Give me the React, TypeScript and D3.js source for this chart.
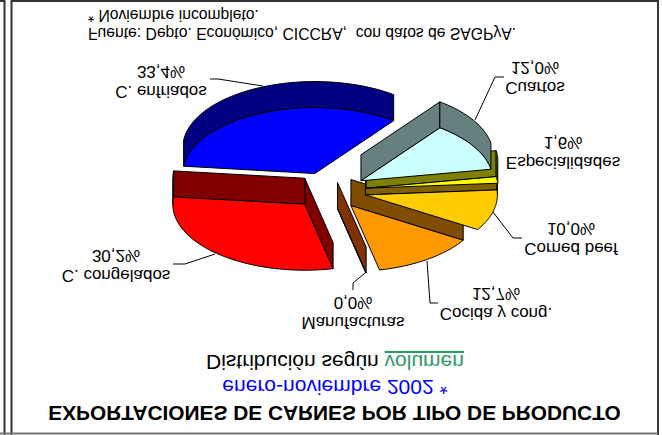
// exploded 3D pie, drawn upside down like the scanned original
import * as d3 from "d3";

const W = 662;
const H = 435;

// slices, clockwise (as seen on the page) from the first one
const products = ["Cuartos", "Especialidades", "Corned beef", "Cocida y cong.", "Manufacturas", "C. congelados", "C. enfriados"];
const shares = [12.0, 1.6, 10.0, 12.7, 0.04, 30.2, 33.4];
const faceColors = ["#CCFFFF", "#FFFF00", "#FFCC00", "#FF9900", "#FF6600", "#FF0000", "#0000FF"];
const wallColors = ["#668080", "#808000", "#806000", "#804C00", "#803300", "#800000", "#000080"];
// far slices first, in the unflipped view
const drawOrder = [5, 4, 3, 2, 1, 0, 6];

// label anchors in the flipped drawing: x, baseline of name line
const labelX = [535, 563, 571, 496, 353, 116, 161];
const labelY = [353, 278, 192, 127, 118, 165, 349];
const leaderPoints: [number, number][][] = [
  [[475, 315], [495, 358], [504, 358]],
  [],
  [[493, 223], [513, 197], [522, 197]],
  [[427, 174], [430, 132], [438, 132]],
  [[365, 162], [353, 152], [353, 145]],
  [[215, 181], [185, 171], [173, 171]],
  [[263, 349], [218, 356], [210, 356]],
];

const title = "EXPORTACIONES DE CARNES POR TIPO DE PRODUCTO";
const period = "enero-noviembre 2002 *";
const subtitle = "Distribución según ";
const subtitleUnit = "volumen";
const footnote = "* Noviembre incompleto.";
const source = "Fuente: Depto. Económico, CICCRA,  con datos de SAGPyA.";

const cx = 329.5;
const cy = 244.5;
const rx = 132;
const ry = 66;
const depth = 26;
const explode = 0.28;
const startAngle = (36.7 * Math.PI) / 180;

const fontFamily = "'Liberation Sans', Arial, sans-serif";
const pct = (v: number) => v.toFixed(1).replace(".", ",") + "%";

export default function App() {
  const pie = d3.pie<number>().sort(null).startAngle(startAngle).endAngle(startAngle + 2 * Math.PI);
  const arcs = pie(shares);

  const line = d3.line<[number, number]>();

  const slices = drawOrder.map((i) => {
    const a0 = arcs[i].startAngle;
    const a1 = arcs[i].endAngle;
    const mid = (a0 + a1) / 2;
    const ax = cx + explode * rx * Math.sin(mid);
    const ay = cy + explode * ry * Math.cos(mid);
    const rim = (a: number): [number, number] => [ax + rx * Math.sin(a), ay + ry * Math.cos(a)];
    const sweep = (from: number, to: number) => d3.range(0, 41).map((k) => rim(from + ((to - from) * k) / 40));

    const face = line([[ax, ay], ...sweep(a0, a1)]) + "Z";

    // walls are only drawn on the sides that can be seen
    const walls: string[] = [];
    const radial = (a: number) => {
      const p = rim(a);
      walls.push(line([[ax, ay], p, [p[0], p[1] + depth], [ax, ay + depth]]) + "Z");
    };
    if (Math.sin(a0) > 0) radial(a0);
    if (Math.sin(a1) < 0) radial(a1);
    // outer wall, only the part of the rim between -90 and 90 degrees
    for (const turn of [0, 2 * Math.PI]) {
      const from = Math.max(a0, turn - Math.PI / 2);
      const to = Math.min(a1, turn + Math.PI / 2);
      if (to > from) {
        const front = sweep(from, to);
        const back = front.map(([x, y]) => [x, y + depth] as [number, number]).reverse();
        walls.push(line([...front, ...back]) + "Z");
      }
    }
    return { i, face, walls };
  });

  return (
    <svg width={W} height={H} style={{ position: "absolute", left: 0, top: 0, background: "#fff" }} fontFamily={fontFamily}>
      <g transform={`translate(0,${H}) scale(1,-1)`}>
        {/* frame */}
        <g fill="none" stroke="#333" strokeWidth={2}>
          <path d={`M4.5,0V${H - 1}H0`} />
          <path d={`M11.5,0V${H - 1}H658V0`} />
        </g>
        <path d={`M0,1.5H658`} stroke="#777" strokeWidth={2} fill="none" />

        {slices.map((s) => (
          <g key={s.i} stroke="#000" strokeWidth={1} strokeLinejoin="round">
            {s.walls.map((d, k) => (
              <path key={k} d={d} fill={wallColors[s.i]} />
            ))}
            <path d={s.face} fill={faceColors[s.i]} />
          </g>
        ))}

        {leaderPoints.map((pts, i) =>
          pts.length ? <path key={i} d={line(pts) as string} fill="none" stroke="#000" strokeWidth={1} /> : null
        )}

        {/* all text is mirrored along with the group, as in the source */}
        {products.map((name, i) => (
          <text key={name} textAnchor="middle" fontSize={17} fill="#000">
            <tspan x={labelX[i]} y={labelY[i]}>{name}</tspan>
            <tspan x={labelX[i]} y={labelY[i] + 20.5}>{pct(shares[i])}</tspan>
          </text>
        ))}

        <text x={334.5} y={29} textAnchor="middle" fontSize={20.85} fontWeight="bold" fill="#000">{title}</text>
        <text x={335} y={55} textAnchor="middle" fontSize={21} fill="#0000FF">{period}</text>
        <text x={335} y={80} textAnchor="middle" fontSize={21} fill="#000">
          {subtitle}
          <tspan fill="#339966" textDecoration="underline">{subtitleUnit}</tspan>
        </text>
        <text x={88} y={H - 28} fontSize={15.7} fill="#000" style={{ whiteSpace: "pre" }}>{source}</text>
        <text x={88} y={H - 10} fontSize={15.7} fill="#000">{footnote}</text>
      </g>
    </svg>
  );
}
